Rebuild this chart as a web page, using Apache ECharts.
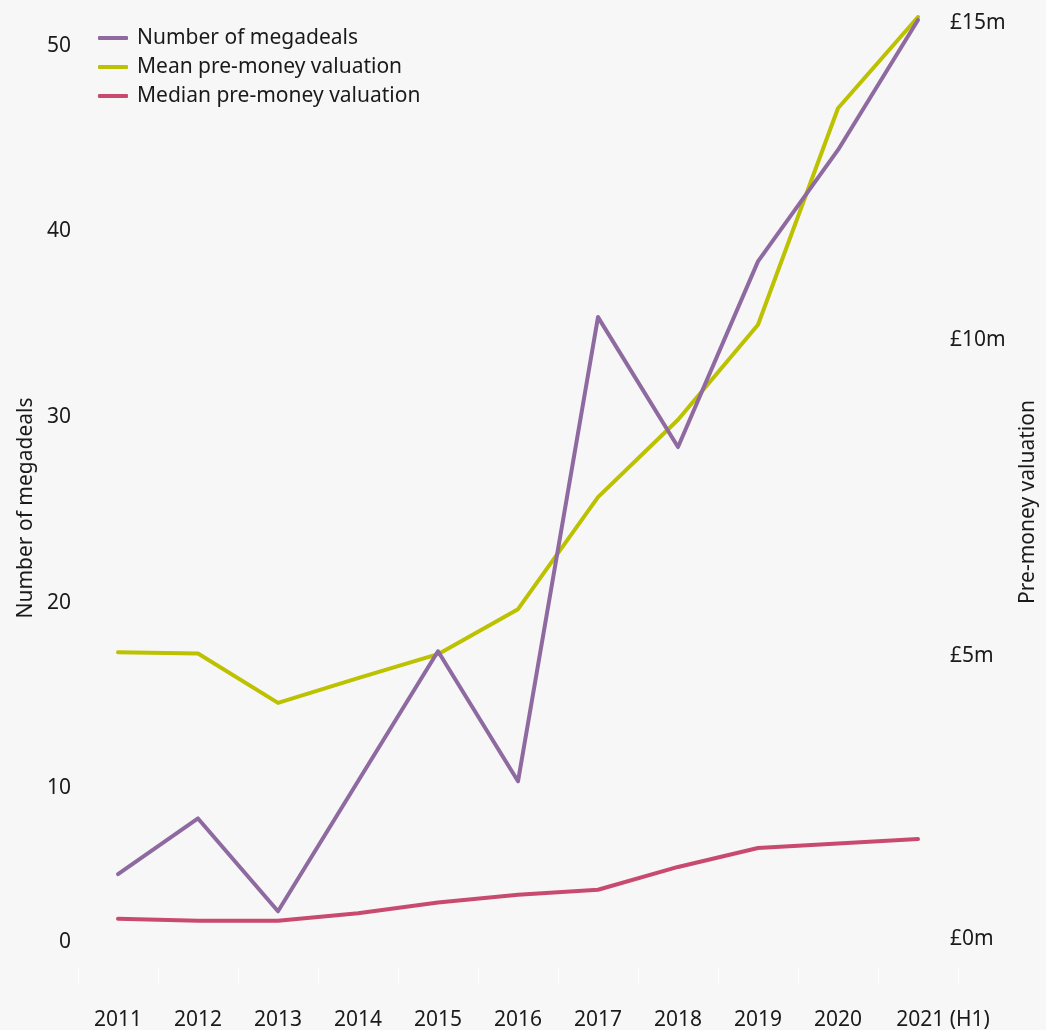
<!DOCTYPE html>
<html>
<head>
<meta charset="utf-8">
<script src="https://cdn.jsdelivr.net/npm/echarts@6/dist/echarts.min.js"></script>
<style>
  html, body { margin: 0; padding: 0; background: #f7f7f7; }
  #chart { width: 1046px; height: 1030px; }
</style>
</head>
<body>
<div id="chart"></div>
<script>
// Years on the horizontal axis
const years = ['2011', '2012', '2013', '2014', '2015', '2016', '2017', '2018', '2019', '2020', '2021 (H1)'];
// Count of megadeals per year (left axis)
const megadeals = [5, 8, 3, 10, 17, 10, 35, 28, 38, 44, 51];
// Pre-money valuations in £m (right axis)
const meanValuation = [4.97, 4.95, 4.17, 4.56, 4.94, 5.65, 7.42, 8.64, 10.14, 13.56, 15.0];
const medianValuation = [0.76, 0.73, 0.73, 0.85, 1.02, 1.14, 1.22, 1.58, 1.88, 1.95, 2.02];
// Tick values shown on each vertical axis
const dealTicks = [0, 10, 20, 30, 40, 50];
const valuationTicks = [0, 5, 10, 15];

const FONT = 'Noto Sans';
const FS = 21;
const INK = '#1a1a1a';
const COLORS = { deals: '#8e6aa0', mean: '#bcc100', median: '#c94a6f' };

const chart = echarts.init(document.getElementById('chart'));

chart.setOption({
  backgroundColor: '#f7f7f7',
  textStyle: { fontFamily: FONT, color: INK },
  grid: { left: 78, right: 88, top: 17, bottom: 63, containLabel: false, outerBoundsMode: 'none' },
  legend: {
    orient: 'vertical',
    left: 98,
    top: 27,
    padding: 0,
    itemWidth: 30,
    itemHeight: 4,
    itemGap: 7,
    icon: 'roundRect',
    textStyle: { fontFamily: FONT, fontSize: FS, color: INK, lineHeight: 22, padding: [0, 0, 0, 4] },
    data: ['Number of megadeals', 'Mean pre-money valuation', 'Median pre-money valuation']
  },
  xAxis: {
    type: 'category',
    data: years,
    boundaryGap: true,
    axisLine: { show: false },
    axisTick: { show: true, length: 16, lineStyle: { color: '#ffffff', width: 1 } },
    splitLine: { show: false },
    axisLabel: {
      interval: 0,
      margin: 43,
      fontFamily: FONT,
      fontSize: FS,
      color: INK,
      formatter: function (v) {
        return v.indexOf('(') >= 0 ? '{h|' + v + '}' : v;
      },
      rich: {
        h: { fontFamily: FONT, fontSize: FS, color: INK, padding: [0, 0, 0, 50] }
      }
    }
  },
  yAxis: [
    {
      type: 'value',
      position: 'left',
      min: 0,
      max: 51.16,
      interval: 10,
      name: 'Number of megadeals',
      nameLocation: 'middle',
      nameGap: 40,
      nameRotate: 90,
      nameTextStyle: { fontFamily: FONT, fontSize: FS, color: INK, padding: [0, 32, 0, 0] },
      axisLine: { show: false },
      axisTick: { show: false },
      splitLine: { show: false },
      axisLabel: {
        margin: 7,
        showMaxLabel: false,
        fontFamily: FONT,
        fontSize: FS,
        color: INK,
        formatter: function (v) {
          if (dealTicks.indexOf(v) < 0) return '';
          return v === 0 ? '{z|0}' : '{n|' + v + '}';
        },
        rich: {
          z: { fontFamily: FONT, fontSize: FS, color: INK, padding: [0, 0, 50, 0] },
          n: { fontFamily: FONT, fontSize: FS, color: INK, padding: [14, 0, 0, 0] }
        }
      }
    },
    {
      type: 'value',
      position: 'right',
      min: 0,
      max: 15,
      interval: 5,
      name: 'Pre-money valuation',
      nameLocation: 'middle',
      nameGap: 60,
      nameRotate: 90,
      nameTextStyle: { fontFamily: FONT, fontSize: FS, color: INK, padding: [0, 20, 0, 0] },
      axisLine: { show: false },
      axisTick: { show: false },
      splitLine: { show: false },
      axisLabel: {
        margin: -8,
        fontFamily: FONT,
        fontSize: FS,
        color: INK,
        formatter: function (v) {
          if (valuationTicks.indexOf(v) < 0) return '';
          const txt = '£' + v + 'm';
          return v === 0 ? '{z|' + txt + '}' : '{n|' + txt + '}';
        },
        rich: {
          z: { fontFamily: FONT, fontSize: FS, color: INK, padding: [0, 0, 56, 0] },
          n: { fontFamily: FONT, fontSize: FS, color: INK, padding: [12, 0, 0, 0] }
        }
      }
    }
  ],
  series: [
    {
      name: 'Number of megadeals',
      type: 'line',
      yAxisIndex: 0,
      data: megadeals,
      showSymbol: false,
      clip: false,
      itemStyle: { color: COLORS.deals },
      lineStyle: { color: COLORS.deals, width: 4, cap: 'round', join: 'round' },
      emphasis: { disabled: true },
      z: 3
    },
    {
      name: 'Mean pre-money valuation',
      type: 'line',
      yAxisIndex: 1,
      data: meanValuation,
      showSymbol: false,
      clip: false,
      itemStyle: { color: COLORS.mean },
      lineStyle: { color: COLORS.mean, width: 4, cap: 'round', join: 'round' },
      emphasis: { disabled: true },
      z: 2
    },
    {
      name: 'Median pre-money valuation',
      type: 'line',
      yAxisIndex: 1,
      data: medianValuation,
      showSymbol: false,
      clip: false,
      itemStyle: { color: COLORS.median },
      lineStyle: { color: COLORS.median, width: 4, cap: 'round', join: 'round' },
      emphasis: { disabled: true },
      z: 2
    }
  ]
});
</script>
</body>
</html>
